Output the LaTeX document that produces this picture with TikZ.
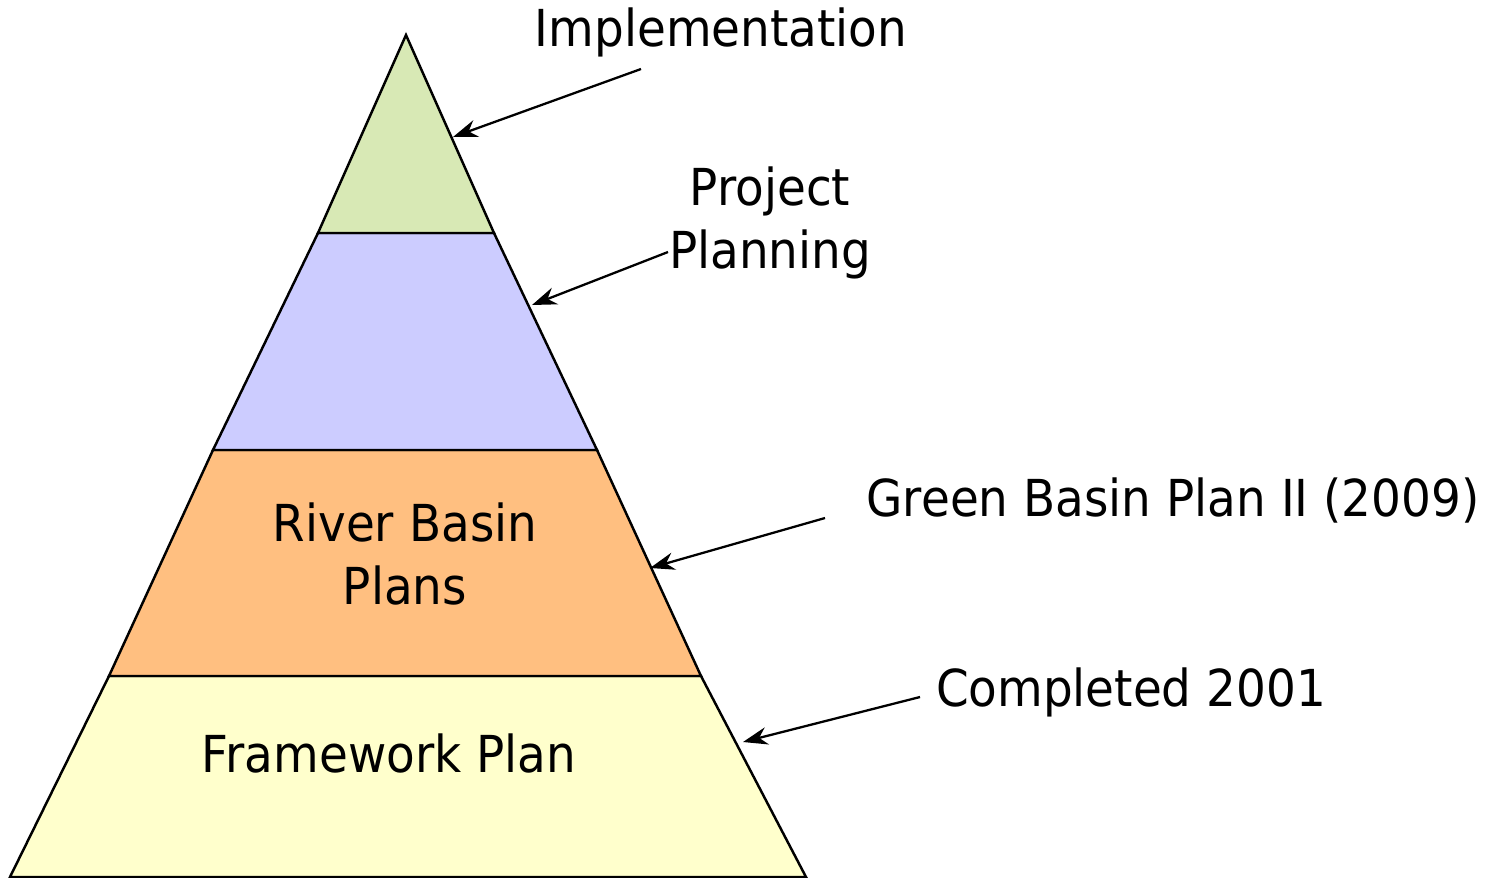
\documentclass[tikz,border=0pt]{standalone}
\usepackage{fontspec}
\setmainfont{DejaVu Sans}[FakeStretch=0.92]
\usepackage{tikz}
\usetikzlibrary{arrows.meta, positioning, calc}
\definecolor{topgreen}{RGB}{216, 233, 181}
\definecolor{planblue}{RGB}{204, 204, 255}
\definecolor{basinorange}{RGB}{255, 191, 128}
\definecolor{baseyellow}{RGB}{255, 255, 204}
\tikzset{
  layer/.style={
    draw=black, line width=1.4pt, line join=miter
  },
  label/.style={
    font=\fontsize{29}{36}\selectfont, align=center, inner sep=0pt
  },
  pointer/.style={
    -{Stealth[length=14pt, width=10pt]}, line width=1.3pt
  }
}

\begin{document}
\begin{tikzpicture}[x=0.02cm, y=-0.02cm]
  \useasboundingbox (0,0) rectangle (1492,877);

  % pyramid corners
  \coordinate (apex) at (406,35);
  \coordinate (l1) at (318,233); \coordinate (r1) at (494,233);
  \coordinate (l2) at (213,450); \coordinate (r2) at (597,450);
  \coordinate (l3) at (109,676); \coordinate (r3) at (701,676);
  \coordinate (l4) at (10,877);  \coordinate (r4) at (806,877);

  % layers
  \filldraw[layer, fill=baseyellow] (l3) -- (r3) -- (r4) -- (l4) -- cycle;
  \filldraw[layer, fill=basinorange] (l2) -- (r2) -- (r3) -- (l3) -- cycle;
  \filldraw[layer, fill=planblue] (l1) -- (r1) -- (r2) -- (l2) -- cycle;
  \filldraw[layer, fill=topgreen] (apex) -- (r1) -- (l1) -- cycle;

  % texts in the layers
  \node[label] (basins) at (405,554) {River Basin\\Plans};
  \node[label] (framework) at (389,753) {Framework Plan};

  % labels on the right
  \node[label] (impl) at (721,32) {Implementation};
  \node[label] (project) at (770,223) {Project\\Planning};
  \node[label] (green) at (1173,500) {Green Basin Plan II (2009)};
  \node[label] (completed) at (1131,692) {Completed 2001};

  % arrow ends
  \coordinate (implstart) at (641,69);   \coordinate (impltip) at (453,137);
  \coordinate (projstart) at (668,252);  \coordinate (projtip) at (532,305);
  \coordinate (greenstart) at (825,518); \coordinate (greentip) at (650,568);
  \coordinate (compstart) at (920,697);  \coordinate (comptip) at (743,742);

  \draw[pointer] (implstart) -- (impltip);
  \draw[pointer] (projstart) -- (projtip);
  \draw[pointer] (greenstart) -- (greentip);
  \draw[pointer] (compstart) -- (comptip);
\end{tikzpicture}
\end{document}
